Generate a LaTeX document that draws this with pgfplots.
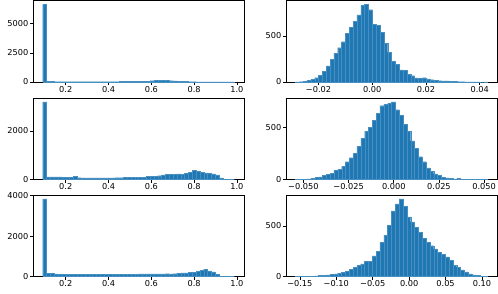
\documentclass[border=0pt]{standalone}
\usepackage{fontspec}
\setmainfont{DejaVu Sans}
\usepackage{pgfplots}
\pgfplotsset{compat=1.18}
\definecolor{mplblue}{RGB}{31,119,180}
\pgfplotsset{
  hist/.style={scale only axis, width=211pt, height=81.5pt, anchor=south west,
    axis line style={line width=0.6pt}, tick align=outside, tick pos=left,
    major tick length=3pt, every tick/.style={black, line width=0.6pt},
    scaled x ticks=false, scaled y ticks=false,
    ymin=0, tick label style={font=\fontsize{8.2}{9}\selectfont},
    xticklabel style={inner sep=1.2pt}, yticklabel style={inner sep=1.5pt},
    clip=true},
  hbar/.style={ybar interval, fill=mplblue, draw=mplblue!82!white, line width=0.2pt},
}
\begin{document}
\begin{tikzpicture}
\useasboundingbox (0pt,0pt) rectangle (498pt,293pt);
% ---------- left column ----------
\begin{axis}[hist, at={(33pt,211pt)}, xmin=0.047, xmax=1.033, ymax=6993,
  xtick={0.2,0.4,0.6,0.8,1.0}, xticklabels={0.2,0.4,0.6,0.8,1.0},
  ytick={0,2500,5000}, yticklabels={0,2500,5000}]
\addplot[hbar] table[header=false, y index=0, x expr={0.092+\coordindex*0.01792}] {
6660
40
35
30
30
28
28
25
25
25
25
25
25
25
28
28
30
30
30
32
35
35
38
40
45
50
60
80
110
130
140
145
140
120
90
60
45
35
30
25
20
18
15
12
10
8
6
5
3
2
0
};
\end{axis}
\begin{axis}[hist, at={(33pt,113.5pt)}, xmin=0.047, xmax=1.033, ymax=3350,
  xtick={0.2,0.4,0.6,0.8,1.0}, xticklabels={0.2,0.4,0.6,0.8,1.0},
  ytick={0,2000}, yticklabels={0,2000}]
\addplot[hbar] table[header=false, y index=0, x expr={0.092+\coordindex*0.01792}] {
3190
110
112
108
105
95
85
80
120
75
72
72
70
68
72
70
72
70
72
75
78
80
85
92
95
95
100
120
135
140
160
190
210
215
225
230
225
250
290
370
335
305
270
250
230
190
70
0
0
0
0
};
\end{axis}
\begin{axis}[hist, at={(33pt,16.5pt)}, xmin=0.047, xmax=1.033, ymax=4027,
  xtick={0.2,0.4,0.6,0.8,1.0}, xticklabels={0.2,0.4,0.6,0.8,1.0},
  ytick={0,2000,4000}, yticklabels={0,2000,4000}]
\addplot[hbar] table[header=false, y index=0, x expr={0.092+\coordindex*0.01792}] {
3835
150
145
135
120
115
110
110
105
100
100
95
100
95
95
100
95
100
95
100
100
105
110
115
120
125
125
130
130
125
130
135
140
130
140
165
180
175
200
215
250
300
360
280
230
100
0
0
0
0
0
};
\end{axis}
% ---------- right column ----------
\begin{axis}[hist, at={(286pt,211pt)}, xmin=-0.0321, xmax=0.0464, ymax=885,
  xtick={-0.02,0,0.02,0.04}, xticklabels={−0.02,0.00,0.02,0.04},
  ytick={0,500}, yticklabels={0,500}]
\addplot[hbar] table[header=false, y index=0, x expr={-0.0286+\coordindex*0.00143}] {
2
4
8
18
30
47
73
117
175
248
310
372
438
529
595
660
730
830
843
785
628
617
537
423
321
226
193
131
124
84
69
44
37
47
33
26
18
15
11
11
7
5
4
3
2
2
1
1
0
1
0
};
\end{axis}
\begin{axis}[hist, at={(286pt,113.5pt)}, xmin=-0.0596, xmax=0.0571, ymax=777,
  xtick={-0.05,-0.025,0,0.025,0.05}, xticklabels={−0.050,−0.025,0.000,0.025,0.050},
  ytick={0,500}, yticklabels={0,500}]
\addplot[hbar] table[header=false, y index=0, x expr={-0.0543+\coordindex*0.002122}] {
1
2
3
5
10
19
26
42
48
61
86
99
125
170
208
250
314
394
458
496
566
634
704
717
726
739
666
611
528
461
368
298
218
170
112
80
54
42
22
16
10
3
10
3
2
1
1
0
0
1
0
};
\end{axis}
\begin{axis}[hist, at={(286pt,16.5pt)}, xmin=-0.169, xmax=0.1206, ymax=806,
  xtick={-0.15,-0.1,-0.05,0,0.05,0.1}, xticklabels={−0.15,−0.10,−0.05,0.00,0.05,0.10},
  ytick={0,500}, yticklabels={0,500}]
\addplot[hbar] table[header=false, y index=0, x expr={-0.156+\coordindex*0.005268}] {
1
1
2
3
4
6
10
13
17
20
26
33
43
50
73
89
109
126
149
152
205
252
338
410
506
649
718
768
695
589
540
487
440
377
338
305
272
238
218
195
162
113
93
66
46
26
17
10
3
1
0
};
\end{axis}
\end{tikzpicture}
\end{document}
